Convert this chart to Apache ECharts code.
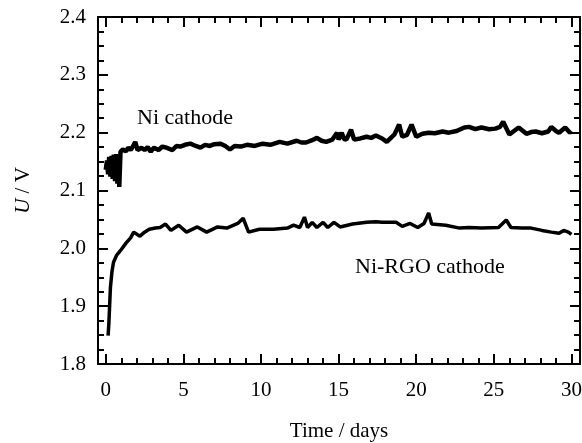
<!DOCTYPE html>
<html>
<head>
<meta charset="utf-8">
<script src="https://cdn.jsdelivr.net/npm/echarts@6/dist/echarts.min.js"></script>
<style>html,body{margin:0;padding:0;background:#fff}#c{width:582px;height:443px}</style>
</head>
<body>
<div id="c"></div>
<script>
// Data
const niTime = [0.0,0.08,0.15,0.22,0.3,0.38,0.45,0.52,0.6,0.68,0.75,0.82,0.87,0.95,1.1,1.3,1.45,1.6,1.75,1.9,2.05,2.3,2.5,2.7,2.9,3.1,3.4,3.65,3.9,4.1,4.3,4.55,4.8,5.1,5.45,5.8,6.1,6.4,6.7,7.0,7.4,7.7,8.0,8.3,8.7,9.1,9.6,10.1,10.6,11.2,11.7,12.3,12.6,12.9,13.3,13.6,13.9,14.2,14.6,14.9,15.0,15.2,15.35,15.5,15.8,16.0,16.4,16.8,17.1,17.4,17.8,18.1,18.4,18.6,18.9,19.1,19.4,19.7,20.0,20.4,20.8,21.2,21.7,22.1,22.6,23.1,23.4,23.8,24.2,24.7,25.1,25.4,25.6,26.0,26.3,26.6,27.1,27.4,27.7,28.1,28.5,28.7,29.0,29.2,29.6,29.9,30.0];
const niVolt = [2.136,2.152,2.128,2.158,2.124,2.160,2.120,2.162,2.116,2.163,2.112,2.160,2.106,2.167,2.171,2.168,2.174,2.170,2.176,2.184,2.170,2.174,2.170,2.175,2.167,2.174,2.170,2.176,2.174,2.172,2.170,2.177,2.176,2.179,2.181,2.177,2.174,2.179,2.177,2.180,2.181,2.177,2.171,2.177,2.176,2.179,2.177,2.181,2.179,2.184,2.181,2.186,2.183,2.183,2.187,2.191,2.186,2.184,2.188,2.200,2.188,2.200,2.189,2.188,2.205,2.188,2.190,2.193,2.191,2.195,2.190,2.184,2.192,2.197,2.214,2.193,2.196,2.214,2.193,2.198,2.200,2.199,2.202,2.200,2.203,2.209,2.210,2.206,2.209,2.206,2.207,2.210,2.219,2.197,2.203,2.209,2.198,2.201,2.202,2.199,2.202,2.210,2.203,2.200,2.209,2.200,2.203];
const rgoTime = [0.15,0.2,0.3,0.4,0.5,0.7,0.85,1.0,1.3,1.6,1.8,2.2,2.5,2.8,3.2,3.5,3.85,4.2,4.7,5.2,5.9,6.5,7.2,7.8,8.5,8.85,9.2,9.9,10.8,11.7,12.1,12.5,12.8,13.0,13.3,13.6,14.0,14.3,14.7,15.1,15.9,16.8,17.4,17.8,18.7,19.1,19.6,20.1,20.5,20.8,21.0,21.9,22.8,23.4,24.2,25.3,25.8,26.1,26.8,27.4,28.1,28.7,29.2,29.5,29.8,30.0];
const rgoVolt = [1.849,1.870,1.932,1.960,1.976,1.988,1.993,1.998,2.009,2.018,2.028,2.021,2.028,2.033,2.035,2.036,2.042,2.031,2.040,2.028,2.037,2.028,2.037,2.035,2.043,2.052,2.028,2.033,2.033,2.035,2.040,2.036,2.054,2.036,2.045,2.036,2.045,2.036,2.045,2.037,2.042,2.045,2.046,2.045,2.045,2.038,2.043,2.036,2.043,2.061,2.042,2.040,2.035,2.036,2.035,2.036,2.049,2.036,2.035,2.035,2.031,2.028,2.026,2.031,2.028,2.024];
const xMajorTicks = [0,5,10,15,20,25,30];
const xMinorTicks = [0,1,2,3,4,5,6,7,8,9,10,11,12,13,14,15,16,17,18,19,20,21,22,23,24,25,26,27,28,29,30];
const seriesNames = ['Ni cathode','Ni-RGO cathode'];

const FONT = 'Liberation Serif';
const black = '#000';
const niData = niTime.map((t,i)=>[t,niVolt[i]]);
const rgoData = rgoTime.map((t,i)=>[t,rgoVolt[i]]);

function xAx(pos, major){
  return {
    type:'value', position:pos, min:-0.5, max:30.55,
    axisLine:{show:major, onZero:false, lineStyle:{color:black,width:2}},
    axisTick:{show:true, inside:true, length: major?10:6, customValues: major?xMajorTicks:xMinorTicks, lineStyle:{color:black,width:2}},
    axisLabel:{show: major && pos==='bottom', customValues:xMajorTicks, color:black, fontFamily:FONT, fontSize:21, margin:16},
    splitLine:{show:false},
    name: (major && pos==='bottom') ? 'Time / days' : '',
    nameLocation:'middle', nameGap:57,
    nameTextStyle:{color:black, fontFamily:FONT, fontSize:21}
  };
}
function yAx(pos){
  return {
    type:'value', position:pos, min:1.8, max:2.4, interval:0.1,
    axisLine:{show:true, onZero:false, lineStyle:{color:black,width:2}},
    axisTick:{show:true, inside:true, length:10, lineStyle:{color:black,width:2}},
    minorTick:{show:true, splitNumber:4, length:6, lineStyle:{color:black,width:2}},
    axisLabel:{show: pos==='left', color:black, fontFamily:FONT, fontSize:21, margin:12, formatter:v=>v.toFixed(1)},
    splitLine:{show:false},
    name: pos==='left' ? '{i|U} / V' : '',
    nameLocation:'middle', nameGap:64,
    nameTextStyle:{color:black, fontFamily:FONT, fontSize:21, rich:{i:{fontStyle:'italic', fontFamily:FONT, fontSize:21, color:black}}}
  };
}

const chart = echarts.init(document.getElementById('c'), null, {renderer:'canvas'});
chart.setOption({
  animation:false,
  backgroundColor:'#fff',
  grid:{left:98, right:2, top:17, bottom:79, containLabel:false, outerBoundsMode:'none'},
  xAxis:[xAx('bottom',true), xAx('bottom',false), xAx('top',true), xAx('top',false)],
  yAxis:[yAx('left'), yAx('right')],
  series:[
    {name:seriesNames[0], type:'line', xAxisIndex:0, yAxisIndex:0, data:niData, showSymbol:false, lineStyle:{color:black,width:4.5}, itemStyle:{color:black}},
    {name:seriesNames[1], type:'line', xAxisIndex:0, yAxisIndex:0, data:rgoData, showSymbol:false, lineStyle:{color:black,width:3.5}, itemStyle:{color:black}}
  ],
  graphic:[
    {type:'text', left:137, top:107, style:{text:seriesNames[0], fill:black, font:'22px "Liberation Serif"'}},
    {type:'text', left:355, top:256, style:{text:seriesNames[1], fill:black, font:'22px "Liberation Serif"'}}
  ]
});
</script>
</body>
</html>
